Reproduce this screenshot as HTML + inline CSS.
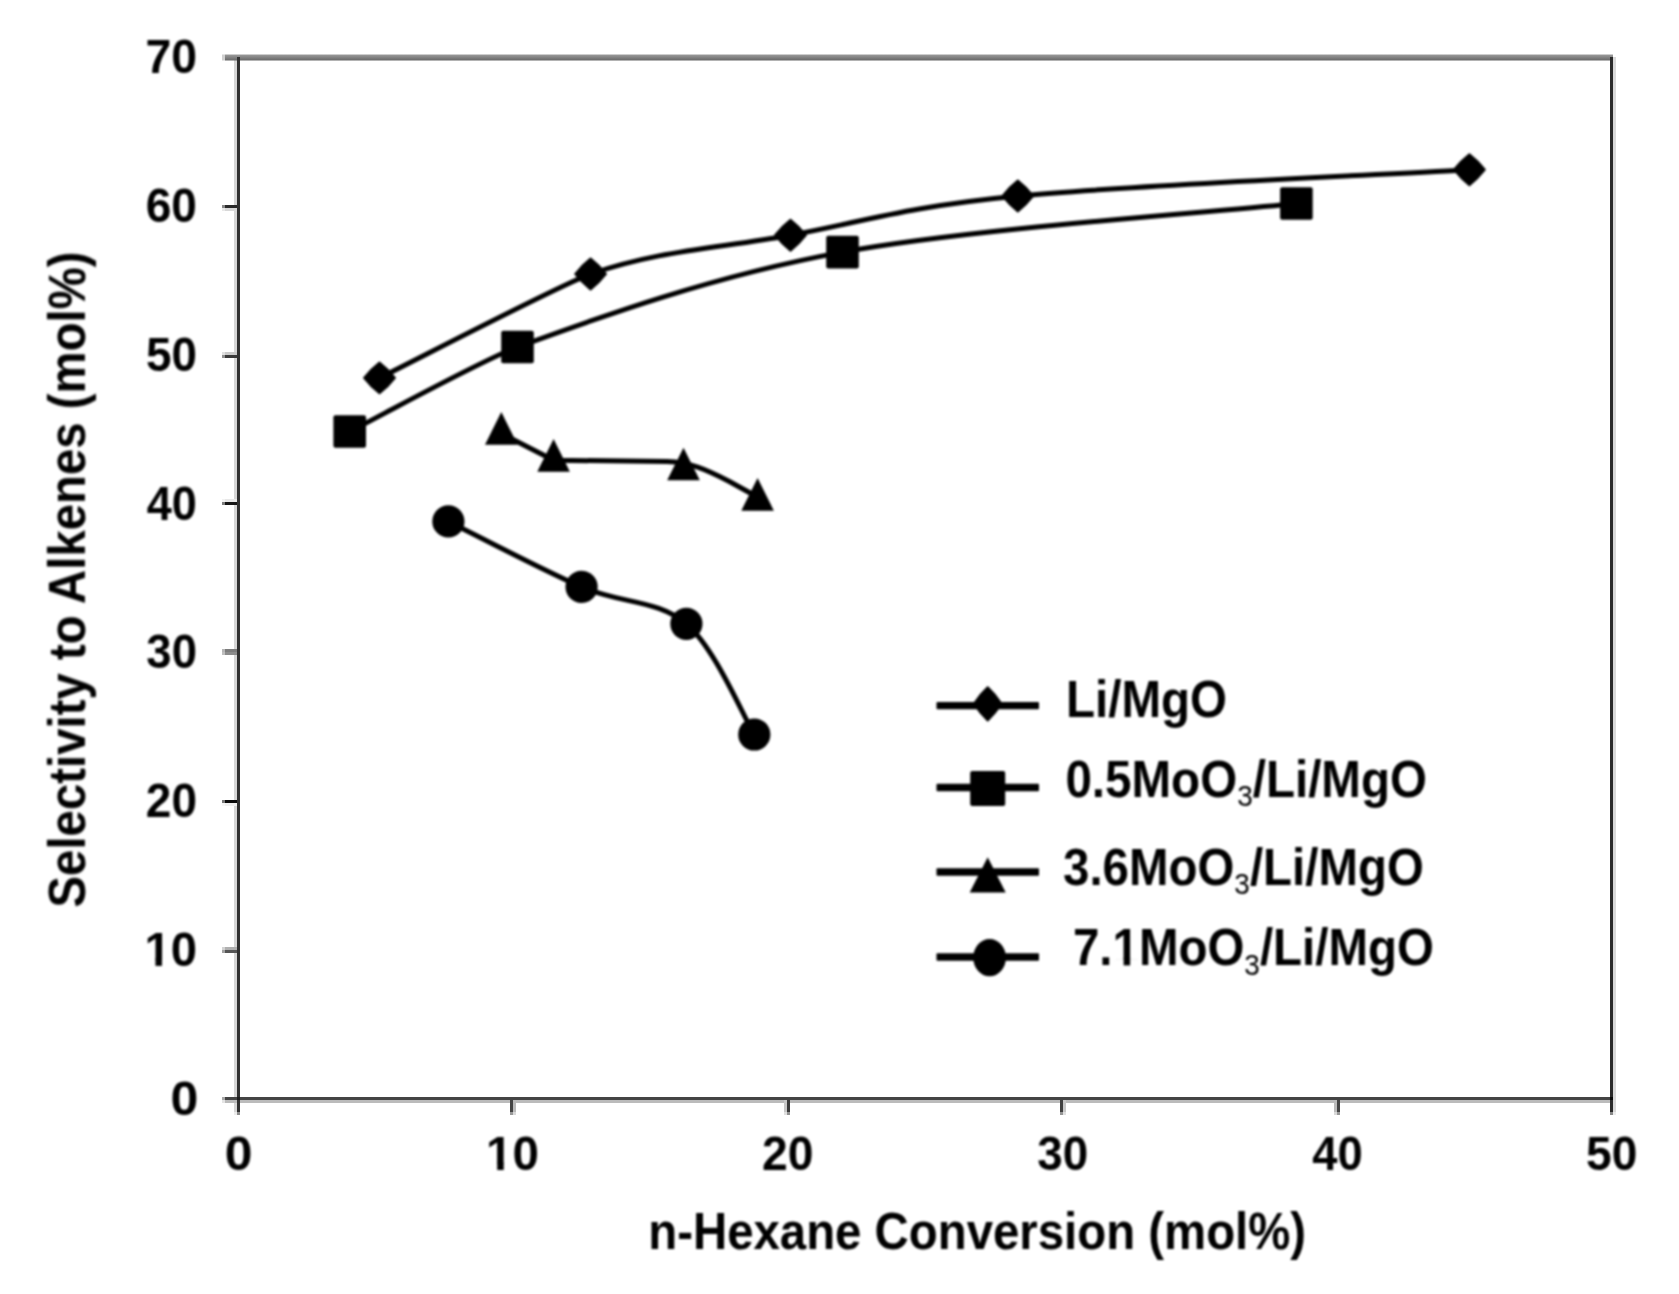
<!DOCTYPE html>
<html><head><meta charset="utf-8"><title>Selectivity to Alkenes vs n-Hexane Conversion</title>
<style>
html,body{margin:0;padding:0;background:#fff;}
body{width:1679px;height:1294px;overflow:hidden;}
svg{display:block;}
text{font-family:"Liberation Sans",sans-serif;font-weight:bold;fill:#000;}
.t{font-size:51px;}
.k{font-size:49px;}
.sub{font-size:30px;font-weight:normal;}
</style></head><body>
<svg width="1679" height="1294" viewBox="0 0 1679 1294">
<rect width="1679" height="1294" fill="#fff"/>
<defs>
<linearGradient id="tg" x1="0" y1="0" x2="0" y2="1"><stop offset="0" stop-color="#9c9c9c"/><stop offset="1" stop-color="#676767"/></linearGradient>
<filter id="soft" color-interpolation-filters="sRGB" x="0" y="0" width="1679" height="1294" filterUnits="userSpaceOnUse"><feGaussianBlur stdDeviation="0.9"/></filter>
</defs>

<g id="axes">
<rect x="234" y="60" width="3" height="1052" fill="#d6d6d6"/><rect x="234" y="1112" width="3" height="3" fill="#ececec"/>
<rect x="222" y="1100" width="3" height="3" fill="#e4e4e4"/><rect x="225" y="1100" width="1385" height="3" fill="#bbbbbb"/>
<rect x="222" y="1097" width="3" height="3" fill="#a8a8a8"/><rect x="225" y="1097" width="1385" height="3" fill="#444444"/>
<rect x="222" y="54.5" width="3" height="6" fill="#d0d0d0"/>
<rect x="225" y="54.5" width="1388" height="6" fill="url(#tg)"/>
<rect x="237" y="57" width="3" height="1055" fill="#303030"/><rect x="237" y="1112" width="3" height="3" fill="#8c8c8c"/>
<rect x="1613" y="57" width="3" height="1055" fill="#d9d9d9"/><rect x="1613" y="1112" width="3" height="3" fill="#ececec"/>
<rect x="1610" y="57" width="3" height="1055" fill="#2a2a2a"/><rect x="1610" y="1112" width="3" height="3" fill="#888888"/>
<rect x="237" y="1097" width="3" height="3" fill="#1c1c1c"/><rect x="1610" y="1097" width="3" height="3" fill="#080808"/>
<rect x="225" y="205" width="12" height="3" fill="#2a2a2a"/><rect x="225" y="208" width="12" height="3" fill="#d8d8d8"/>
<rect x="222" y="205" width="3" height="3" fill="#898989"/><rect x="222" y="208" width="3" height="3" fill="#e9e9e9"/>
<rect x="225" y="352" width="12" height="3" fill="#cacaca"/><rect x="225" y="355" width="12" height="3" fill="#3a3a3a"/>
<rect x="222" y="352" width="3" height="3" fill="#e1e1e1"/><rect x="222" y="355" width="3" height="3" fill="#929292"/>
<rect x="225" y="499" width="12" height="3" fill="#e8e8e8"/><rect x="225" y="502" width="12" height="3" fill="#151515"/>
<rect x="222" y="499" width="3" height="3" fill="#f2f2f2"/><rect x="222" y="502" width="3" height="3" fill="#7e7e7e"/>
<rect x="225" y="649" width="12" height="3" fill="#7c7c7c"/><rect x="225" y="652" width="12" height="3" fill="#8c8c8c"/>
<rect x="222" y="649" width="3" height="3" fill="#b6b6b6"/><rect x="222" y="652" width="3" height="3" fill="#bfbfbf"/>
<rect x="225" y="800" width="12" height="3" fill="#0a0a0a"/><rect x="225" y="803" width="12" height="3" fill="#f0f0f0"/>
<rect x="222" y="800" width="3" height="3" fill="#787878"/><rect x="222" y="803" width="3" height="3" fill="#f6f6f6"/>
<rect x="225" y="947" width="12" height="3" fill="#b0b0b0"/><rect x="225" y="950" width="12" height="3" fill="#555555"/>
<rect x="222" y="947" width="3" height="3" fill="#d3d3d3"/><rect x="222" y="950" width="3" height="3" fill="#a1a1a1"/>
<rect x="510" y="1100" width="3" height="12" fill="#444444"/><rect x="513" y="1100" width="3" height="12" fill="#bbbbbb"/>
<rect x="510" y="1112" width="3" height="3" fill="#989898"/><rect x="513" y="1112" width="3" height="3" fill="#d9d9d9"/>
<rect x="784" y="1100" width="3" height="12" fill="#c8c8c8"/><rect x="787" y="1100" width="3" height="12" fill="#3a3a3a"/>
<rect x="784" y="1112" width="3" height="3" fill="#e0e0e0"/><rect x="787" y="1112" width="3" height="3" fill="#929292"/>
<rect x="1060" y="1100" width="3" height="12" fill="#404040"/><rect x="1063" y="1100" width="3" height="12" fill="#c8c8c8"/>
<rect x="1060" y="1112" width="3" height="3" fill="#959595"/><rect x="1063" y="1112" width="3" height="3" fill="#e0e0e0"/>
<rect x="1334" y="1100" width="3" height="12" fill="#bbbbbb"/><rect x="1337" y="1100" width="3" height="12" fill="#444444"/>
<rect x="1334" y="1112" width="3" height="3" fill="#d9d9d9"/><rect x="1337" y="1112" width="3" height="3" fill="#989898"/>
</g>
<g id="content" filter="url(#soft)">
<g id="ylabels">
<g transform="translate(170.42 1114.66) scale(1.0215 1)"><text class="k" x="0" y="0">0</text></g>
<g transform="translate(144.42 965.91) scale(0.9655 1)"><text class="k" x="0" y="0">10</text><rect x="1.59" y="-6.00" width="25.80" height="7.40" fill="#fff"/><rect x="11.44" y="-7.50" width="6.72" height="7.50" fill="#000"/></g>
<g transform="translate(145.80 817.16) scale(0.9391 1)"><text class="k" x="0" y="0">20</text></g>
<g transform="translate(146.36 668.41) scale(0.9286 1)"><text class="k" x="0" y="0">30</text></g>
<g transform="translate(146.72 519.66) scale(0.9217 1)"><text class="k" x="0" y="0">40</text></g>
<g transform="translate(145.99 370.91) scale(0.9356 1)"><text class="k" x="0" y="0">50</text></g>
<g transform="translate(145.71 222.16) scale(0.9409 1)"><text class="k" x="0" y="0">60</text></g>
<g transform="translate(145.41 73.41) scale(0.9467 1)"><text class="k" x="0" y="0">70</text></g>
</g>
<g id="xlabels">
<g transform="translate(224.68 1170.00) scale(1.0172 1)"><text class="k" x="0" y="0">0</text></g>
<g transform="translate(486.10 1170.00) scale(0.9716 1)"><text class="k" x="0" y="0">10</text><rect x="1.59" y="-6.00" width="25.80" height="7.40" fill="#fff"/><rect x="11.44" y="-7.50" width="6.72" height="7.50" fill="#000"/></g>
<g transform="translate(762.09 1170.00) scale(0.9451 1)"><text class="k" x="0" y="0">20</text></g>
<g transform="translate(1037.25 1170.00) scale(0.9344 1)"><text class="k" x="0" y="0">30</text></g>
<g transform="translate(1312.21 1170.00) scale(0.9275 1)"><text class="k" x="0" y="0">40</text></g>
<g transform="translate(1586.08 1170.00) scale(0.9415 1)"><text class="k" x="0" y="0">50</text></g>
</g>
<g transform="translate(648.28 1248.50) scale(0.9288 1)"><text class="t" x="0" y="0">n-Hexane Conversion (mol%)</text></g>
<g transform="translate(84.90 907.56) rotate(-90) scale(0.9288 1)"><text class="t" x="0" y="0">Selectivity to Alkenes (mol%)</text></g>
<g id="series" fill="none" stroke="#000" stroke-width="5.0" stroke-linecap="round" stroke-linejoin="round">
<path d="M379.5 377.9 C414.7 360.6 561.8 284.0 590.6 274.0 C659.1 250.2 719.3 248.2 790.5 235.2 C861.7 222.2 904.6 206.9 1017.8 196.0 C1131.0 185.1 1394.1 174.1 1469.4 169.7"/>
<path d="M349.7 431.5 C377.7 417.4 483.0 359.6 517.5 347.0 C599.6 317.1 712.7 276.0 842.5 252.1 C972.3 228.2 1220.8 211.6 1296.4 203.5"/>
<path d="M448.4 521.4 C470.6 532.3 541.9 569.8 581.6 586.9 C621.3 604.0 657.6 599.2 686.4 623.8 C715.2 648.4 743.0 716.0 754.3 734.5"/>
<path d="M501.3 433.5 L553.6 460.2 C600 460.5 640 461 667 461.6 C690 462.5 705 469 729.4 481.5 L757.5 497"/>
</g>
<g id="markers" fill="#000">
<path stroke="#000" stroke-width="2" stroke-linejoin="round" d="M379.5 362.5 Q388.2 369.2 394.9 377.9 Q388.2 386.6 379.5 393.3 Q370.8 386.6 364.1 377.9 Q370.8 369.2 379.5 362.5Z"/>
<path stroke="#000" stroke-width="2" stroke-linejoin="round" d="M590.6 258.6 Q599.3 265.3 606.0 274.0 Q599.3 282.7 590.6 289.4 Q581.9 282.7 575.2 274.0 Q581.9 265.3 590.6 258.6Z"/>
<path stroke="#000" stroke-width="2" stroke-linejoin="round" d="M790.5 219.8 Q799.2 226.5 805.9 235.2 Q799.2 243.9 790.5 250.6 Q781.8 243.9 775.1 235.2 Q781.8 226.5 790.5 219.8Z"/>
<path stroke="#000" stroke-width="2" stroke-linejoin="round" d="M1017.8 180.6 Q1026.5 187.3 1033.2 196.0 Q1026.5 204.7 1017.8 211.4 Q1009.1 204.7 1002.4 196.0 Q1009.1 187.3 1017.8 180.6Z"/>
<path stroke="#000" stroke-width="2" stroke-linejoin="round" d="M1469.4 154.3 Q1478.1 161.0 1484.8 169.7 Q1478.1 178.4 1469.4 185.1 Q1460.7 178.4 1454.0 169.7 Q1460.7 161.0 1469.4 154.3Z"/>
<rect x="333.4" y="415.2" width="32.6" height="32.6" rx="2"/>
<rect x="501.2" y="330.7" width="32.6" height="32.6" rx="2"/>
<rect x="826.2" y="235.8" width="32.6" height="32.6" rx="2"/>
<rect x="1280.1" y="187.2" width="32.6" height="32.6" rx="2"/>
<path d="M501.3 412.1 L517.6 444.7 L485.0 444.7Z"/>
<path d="M553.6 439.1 L569.9 471.7 L537.3 471.7Z"/>
<path d="M683.5 447.7 L699.8 480.3 L667.2 480.3Z"/>
<path d="M757.6 478.1 L773.9 510.7 L741.3 510.7Z"/>
<ellipse cx="448.4" cy="521.4" rx="16.1" ry="16.1"/>
<ellipse cx="581.6" cy="586.9" rx="16.1" ry="16.1"/>
<ellipse cx="686.4" cy="623.8" rx="16.1" ry="16.1"/>
<ellipse cx="754.3" cy="734.5" rx="16.1" ry="16.1"/>
</g>
<g id="legend">
<rect x="936.5" y="701.9" width="102.5" height="7.4" fill="#000" rx="1"/>
<rect x="936.5" y="783.8" width="102.5" height="7.4" fill="#000" rx="1"/>
<rect x="936.5" y="868.3" width="102.5" height="7.4" fill="#000" rx="1"/>
<rect x="936.5" y="953.3" width="102.5" height="7.4" fill="#000" rx="1"/>
<g fill="#000">
<path stroke="#000" stroke-width="2" stroke-linejoin="round" d="M987.7 687.2 Q995.5 694.4 1001.5 703.8 Q995.5 713.2 987.7 720.4 Q979.9 713.2 973.9 703.8 Q979.9 694.4 987.7 687.2Z"/>
<rect x="970.2" y="770.9" width="35.0" height="35.0" rx="2"/>
<path d="M987.7 857.2 L1005.7 892.4 L969.7 892.4Z"/>
<ellipse cx="989.6" cy="957.7" rx="16.4" ry="18.6"/>
</g>
<g transform="translate(1065.92 716.60) scale(0.9328 1)"><text class="t" x="0" y="0">Li/MgO</text></g>
<g transform="translate(1065.42 796.60) scale(0.9323 1)"><text class="t" x="0" y="0">0.5MoO<tspan class="sub" dy="9.2">3</tspan><tspan dy="-9.2">/Li/MgO</tspan></text></g>
<g transform="translate(1063.01 884.80) scale(0.9302 1)"><text class="t" x="0" y="0">3.6MoO<tspan class="sub" dy="9.2">3</tspan><tspan dy="-9.2">/Li/MgO</tspan></text></g>
<g transform="translate(1072.96 965.40) scale(0.9309 1)"><text class="t" x="0" y="0">7.1MoO<tspan class="sub" dy="9.2">3</tspan><tspan dy="-9.2">/Li/MgO</tspan></text><rect x="44.24" y="-6.20" width="26.73" height="7.60" fill="#fff"/><rect x="54.43" y="-7.70" width="7.00" height="7.70" fill="#000"/></g>
</g>
</g>
</svg></body></html>
